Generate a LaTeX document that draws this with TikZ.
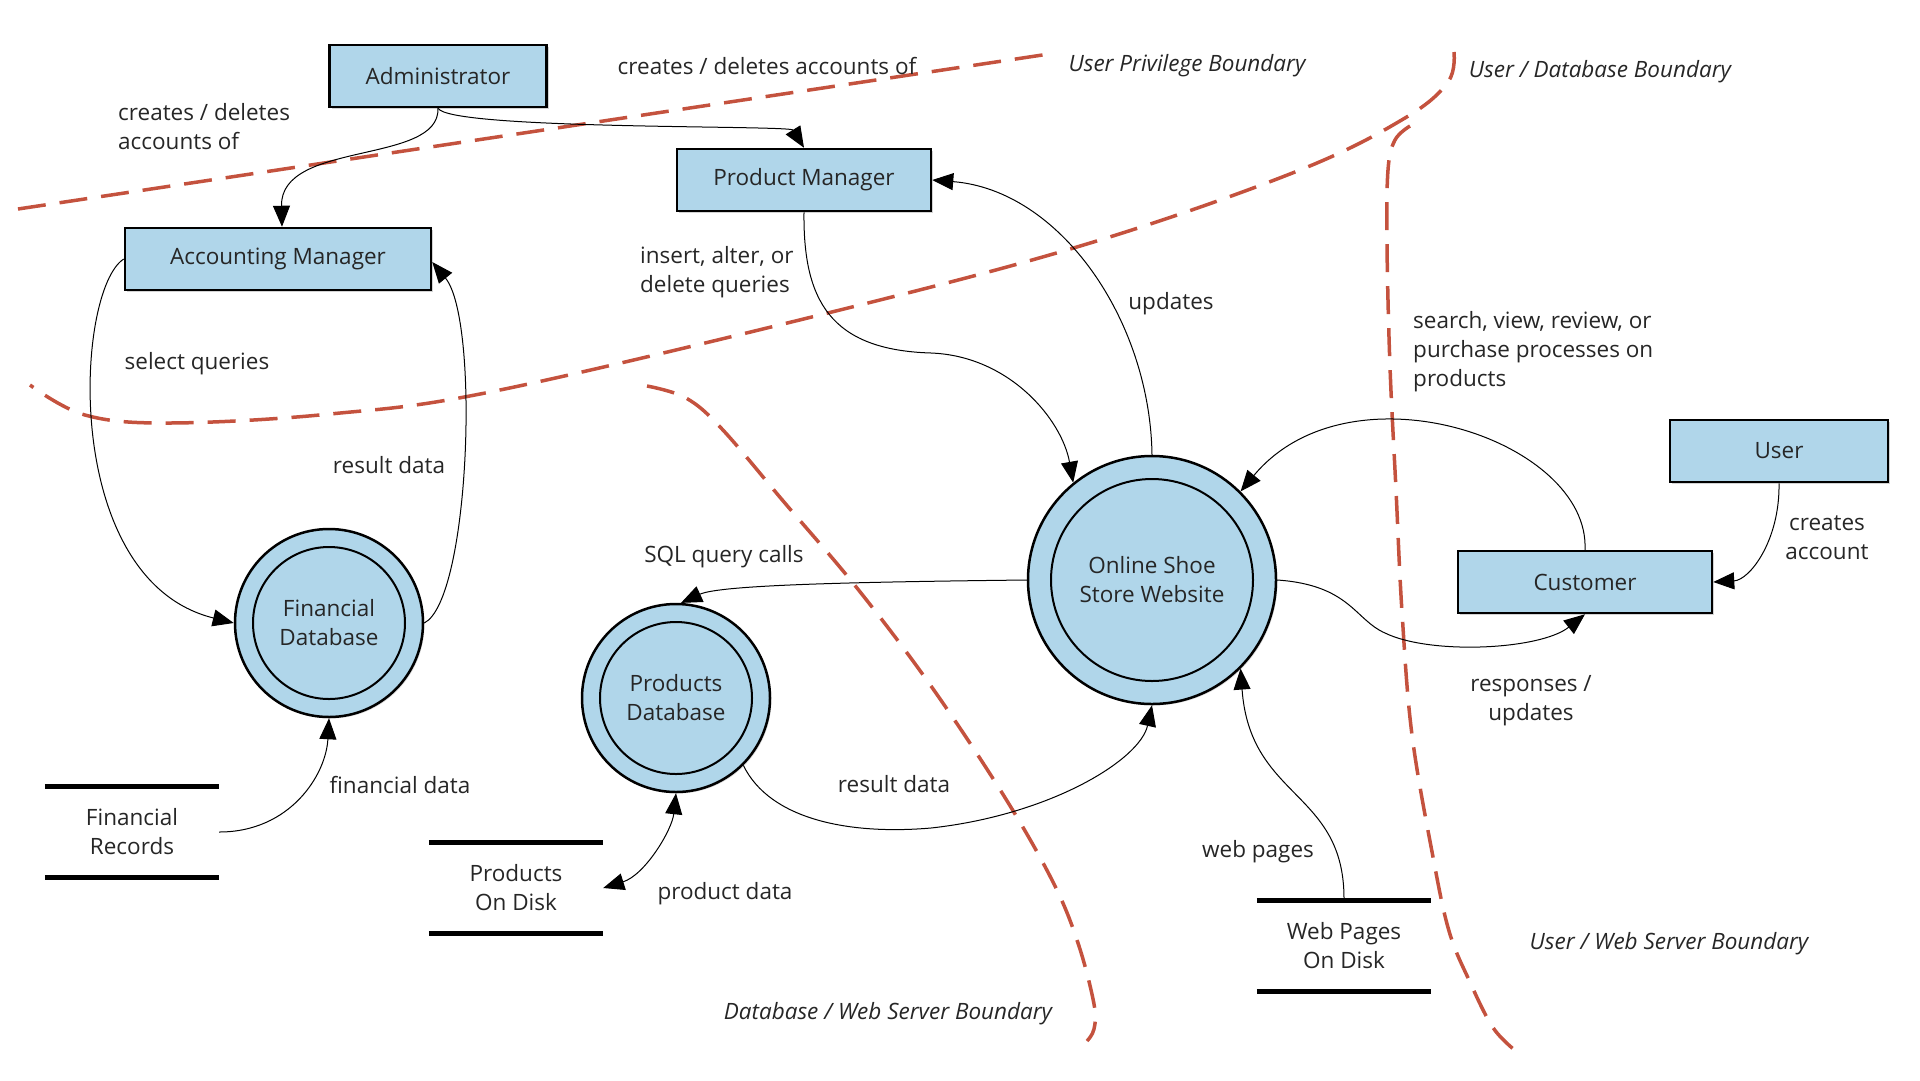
\documentclass[tikz,border=0pt]{standalone}
\usepackage{fontspec}
\setmainfont{Open Sans}
\usepackage{tikz}
\usetikzlibrary{positioning,arrows.meta,calc,shadows}

\definecolor{procblue}{RGB}{176,214,234}
\definecolor{bndred}{RGB}{196,82,62}

\tikzset{
  entity/.style={draw, line width=2.5pt, fill=procblue, minimum width=#1, minimum height=62pt, inner sep=0pt,
    drop shadow={shadow xshift=2pt, shadow yshift=-2pt, opacity=.35}},
  entity/.default=254pt,
  process/.style={circle, draw, line width=2.5pt, fill=procblue, minimum size=#1, inner sep=0pt, align=center,
    drop shadow={shadow xshift=1.5pt, shadow yshift=-1.5pt, opacity=.3}},
  store/.style={minimum width=174pt, minimum height=91pt, inner sep=0pt, align=center},
  storeline/.style={line width=5pt},
  flow/.style={draw, line width=1pt, -{Triangle[length=21pt,width=17pt]}},
  boundary/.style={draw=bndred, line width=3.5pt, dash pattern=on 28pt off 14pt},
  lbl/.style={align=left, inner sep=0pt},
  bndlbl/.style={font=\fontsize{22.5pt}{29pt}\selectfont\itshape, inner sep=0pt}
}

\begin{document}
\begin{tikzpicture}[x=1pt, y=-1pt, font=\fontsize{22.5pt}{29pt}\selectfont, every node/.append style={text=black!85}]

  \useasboundingbox (0,0) rectangle (1920,1080);

  \draw[boundary] (18,209) -- (1049,54);
  \draw[boundary] plot[smooth, tension=0.6] coordinates {(1454,52) (1448,82) (1405,118) (1300,170) (1100,240) (860,305) (500,390) (330,414) (170,423) (85,415) (30,385)};
  \draw[boundary] plot[smooth, tension=0.6] coordinates {(1410,126) (1395,140) (1388,170) (1387,245) (1390,367) (1396,490) (1402,612) (1412,735) (1433,857) (1449,931) (1469,980) (1494,1029) (1522,1056)};
  \draw[boundary] plot[smooth, tension=0.6] coordinates {(647,386) (686,398) (722,429) (784,502) (857,588) (931,686) (1004,796) (1053,882) (1078,943) (1094,1004) (1094,1029) (1087,1041)};

  \node[entity=217pt] (admin) at (438,76) {Administrator};
  \node[entity=254pt] (prodmgr) at (804,180) {Product Manager};
  \node[entity=306pt] (acctmgr) at (278,259) {Accounting Manager};
  \node[entity=218pt] (user) at (1779,451) {User};
  \node[entity=254pt] (cust) at (1585,582) {Customer};

  \node[process=248pt] (web) at (1152,580) {Online Shoe\\Store Website};
  \node[process=188pt] (findb) at (329,623) {Financial\\Database};
  \node[process=188pt] (proddb) at (676,698) {Products\\Database};
  \draw[line width=2pt] (web) circle[radius=101pt];
  \draw[line width=2pt] (findb) circle[radius=76pt];
  \draw[line width=2pt] (proddb) circle[radius=76pt];

  \node[store] (finrec) at (132,832) {Financial\\Records};
  \node[store] (proddisk) at (516,888) {Products\\On Disk};
  \node[store] (webdisk) at (1344,946) {Web Pages\\On Disk};
  \foreach \s in {finrec,proddisk,webdisk}
    \draw[storeline] (\s.north west) -- (\s.north east) (\s.south west) -- (\s.south east);

  \path[flow] (admin.south) .. controls (440,165) and (280,140) .. ([xshift=4pt]acctmgr.north);
  \path[flow] (admin.south) .. controls (450,130) and (790,125) .. (prodmgr.north);
  \path[flow] (acctmgr.west) .. controls (75,290) and (60,580) .. (findb.west);
  \path[flow] (findb.east) .. controls (470,600) and (480,320) .. ([yshift=-3pt]acctmgr.east);
  \path[flow] (finrec.east) .. controls (290,832) and (326,775) .. (findb.south);
  \path[flow] (prodmgr.south) .. controls (803,300) and (830,350) .. (931,353) .. controls (1010,356) and (1062,420) .. (web.129);
  \path[flow] (web.north) .. controls (1150,320) and (1060,190) .. (prodmgr.east);
  \path[flow] (web.west) .. controls (850,582) and (720,585) .. (proddb.87);
  \path[flow] (proddb.-45) .. controls (770,820) and (850,835) .. (931,828) .. controls (1050,815) and (1140,760) .. (web.south);
  \path[flow, {Triangle[length=21pt,width=17pt]}-{Triangle[length=21pt,width=17pt]}] (proddisk.east) .. controls (645,875) and (672,830) .. (proddb.south);
  \path[flow] (webdisk.north) .. controls (1345,790) and (1250,800) .. (web.-45);
  \path[flow] (web.east) .. controls (1350,585) and (1355,620) .. (1385,633) .. controls (1430,655) and (1540,650) .. (cust.south);
  \path[flow] (cust.north) .. controls (1590,440) and (1350,360) .. (web.45);
  \path[flow] (user.south) .. controls (1780,540) and (1750,580) .. (cust.east);

  \node[lbl, anchor=west] (l0) at (118,127) {creates / deletes\\accounts of};
  \node[lbl] (l1) at (767,66) {creates / deletes accounts of};
  \node[lbl, anchor=west] (l2) at (640,272) {insert, alter, or\\delete queries};
  \node[lbl] (l3) at (1171,304) {updates};
  \node[lbl, anchor=west] (l4) at (1413,352) {search, view, review, or\\purchase processes on\\products};
  \node[lbl] (l5) at (197,364) {select queries};
  \node[lbl] (l6) at (389,465) {result data};
  \node[lbl, align=center] (l7) at (1827,538) {creates\\account};
  \node[lbl] (l8) at (724,557) {SQL query calls};
  \node[lbl, align=center] (l9) at (1531,701) {responses /\\updates};
  \node[lbl] (l10) at (400,785) {financial data};
  \node[lbl] (l11) at (894,784) {result data};
  \node[lbl] (l12) at (1258,852) {web pages};
  \node[lbl] (l13) at (725,894) {product data};

  \node[bndlbl] (b0) at (1187,66) {User Privilege Boundary};
  \node[bndlbl] (b1) at (1600,72) {User / Database Boundary};
  \node[bndlbl] (b2) at (1669,944) {User / Web Server Boundary};
  \node[bndlbl] (b3) at (888,1014) {Database / Web Server Boundary};

\end{tikzpicture}
\end{document}
